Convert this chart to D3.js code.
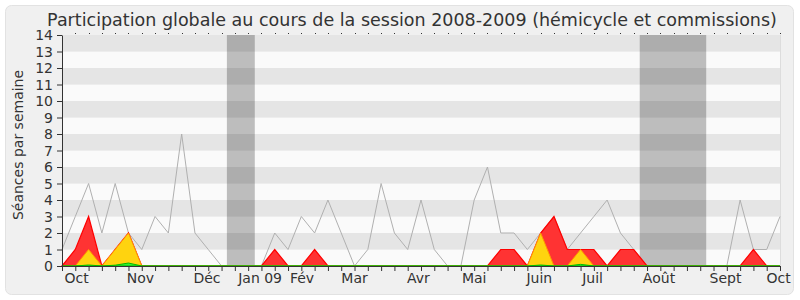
<!DOCTYPE html>
<html><head><meta charset="utf-8">
<script src="https://cdn.jsdelivr.net/npm/d3@7"></script>
<style>body{margin:0;background:#fff}svg{display:block;font-family:"DejaVu Sans",sans-serif}</style>
</head><body><svg id="c" width="800" height="300"></svg>
<script>
const title = "Participation globale au cours de la session 2008-2009 (hémicycle et commissions)";
const yLabel = "Séances par semaine";
const weeks = d3.range(55);
const totalSeances = [1,3,5,2,5,2,1,3,2,8,2,1,0,0,0,0,2,1,3,2,4,2,0,1,5,2,1,4,1,0,0,4,6,2,2,1,2,3,1,2,3,4,2,1,0,0,0,0,0,0,0,4,1,1,3];
const presences   = [0,1,3,0,1,2,0,0,0,0,0,0,0,0,0,0,1,0,0,1,0,0,0,0,0,0,0,0,0,0,0,0,0,1,1,0,2,3,1,1,1,0,1,1,0,0,0,0,0,0,0,0,1,0,0];
const participations = [0,0,1,0,1,2,0,0,0,0,0,0,0,0,0,0,0,0,0,0,0,0,0,0,0,0,0,0,0,0,0,0,0,0,0,0,2,0,0,1,0,0,0,0,0,0,0,0,0,0,0,0,0,0,0];
const questions = [0,0,0.06,0,0.05,0.18,0,0,0,0,0,0,0,0,0,0,0,0,0,0,0,0,0,0,0,0,0,0,0,0,0,0,0,0,0,0,0.06,0,0,0.1,0,0,0,0,0,0,0,0,0,0,0,0,0,0,0];
const monthLabels = ["Oct","Nov","Déc","Jan 09","Fév","Mar","Avr","Mai","Juin","Juil","Août","Sept","Oct"];
const monthWeeks  = [1.1,5.9,10.9,14.9,18.05,22,26.8,31,35.9,39.9,44.9,49.9,53.9];
const vacances = [[12.4,14.5],[43.45,48.45]];
const yTicks = d3.range(0,15);

const svg = d3.select("#c");
const L=62,R=780,T=35,B=266;
const x = d3.scaleLinear().domain([0,54]).range([L,R]);
const y = d3.scaleLinear().domain([0,14]).range([B,T]);

svg.append("rect").attr("x",5.5).attr("y",5.5).attr("width",788).attr("height",289)
  .attr("rx",6).attr("fill","#f0f0f0").attr("stroke","#e2e2e2");

svg.append("text").attr("x",412).attr("y",26).attr("text-anchor","middle")
  .attr("font-size",17.5).attr("fill","#333").text(title);

// stripes
svg.append("g").selectAll("rect").data(d3.range(0,14)).join("rect")
  .attr("x",L).attr("width",R-L)
  .attr("y",d=>y(d+1)).attr("height",d=>y(d)-y(d+1))
  .attr("fill",d=>d%2?"#e5e5e5":"#fafafa");
svg.append("line").attr("x1",R+0.5).attr("x2",R+0.5).attr("y1",T).attr("y2",B).attr("stroke","#ddd");

// vacation bands
svg.append("g").selectAll("rect").data(vacances).join("rect")
  .attr("x",d=>x(d[0])).attr("width",d=>x(d[1])-x(d[0]))
  .attr("y",T).attr("height",B-T).attr("fill","#000").attr("opacity",0.245);

// top dots
svg.append("g").selectAll("rect").data(weeks.slice(1)).join("rect")
  .attr("x",d=>Math.round(x(d))).attr("y",33).attr("width",1).attr("height",1).attr("fill","#333");

const line = d3.line().x((d,i)=>x(i)).y(d=>y(d));
svg.append("path").attr("d",line(totalSeances)).attr("fill","none").attr("stroke","#b0b0b0").attr("stroke-width",1);

const area = d3.area().x((d,i)=>x(i)).y0(y(0)).y1(d=>y(d));
svg.append("path").attr("d",area(presences)).attr("fill","#ff3333").attr("stroke","#ff0000").attr("stroke-width",1.2);
svg.append("path").attr("d",area(participations)).attr("fill","#ffd30f").attr("stroke","#ff9900").attr("stroke-width",1);
svg.append("path").attr("d",area(questions)).attr("fill","#33ee33").attr("stroke","#00bb00").attr("stroke-width",1);

// x axis
const xAxis = d3.axisBottom(x).tickValues(weeks).tickFormat("").tickSize(5).tickSizeOuter(0);
const gx = svg.append("g").attr("transform",`translate(0,${B})`).call(xAxis);
gx.selectAll("line,path").attr("stroke","#333");
svg.append("g").selectAll("text").data(monthLabels).join("text")
  .attr("x",(d,i)=>x(monthWeeks[i])).attr("y",283).attr("text-anchor","middle")
  .attr("font-size",14).attr("fill","#333").text(d=>d);

// y axis
const yAxis = d3.axisLeft(y).tickValues(yTicks).tickSize(5).tickSizeOuter(0).tickPadding(4);
const gy = svg.append("g").attr("transform",`translate(${L},0)`).call(yAxis);
gy.selectAll("line,path").attr("stroke","#333");
gy.selectAll("text").attr("font-size",14).attr("fill","#333").attr("font-family","DejaVu Sans").attr("dy","0.33em");

svg.append("text").attr("transform",`translate(23,145) rotate(-90)`).attr("text-anchor","middle")
  .attr("font-size",14).attr("fill","#333").text(yLabel);
</script></body></html>
